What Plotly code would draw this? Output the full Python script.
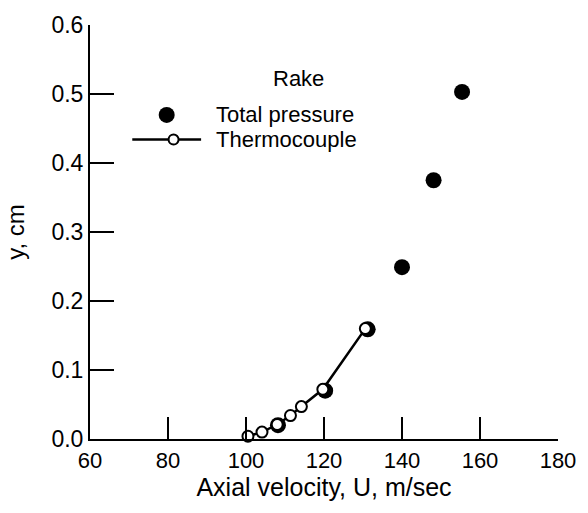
import plotly.graph_objects as go

# Data
total_x = [108.2, 120.3, 131.2, 140.0, 148.1, 155.4]
total_y = [0.020, 0.070, 0.159, 0.249, 0.375, 0.503]
thermo_x = [100.5, 104.1, 108.0, 111.4, 114.2, 119.7, 130.6]
thermo_y = [0.004, 0.010, 0.021, 0.034, 0.047, 0.072, 0.160]

x_ticks = [60, 80, 100, 120, 140, 160, 180]
y_ticks = [0.0, 0.1, 0.2, 0.3, 0.4, 0.5, 0.6]

FONT = "Liberation Sans, Arial, sans-serif"

fig = go.Figure()
fig.add_trace(go.Scatter(
    x=total_x, y=total_y, mode="markers", name="Total pressure",
    marker=dict(color="black", size=16, line=dict(width=0)),
    cliponaxis=False, showlegend=False,
))
fig.add_trace(go.Scatter(
    x=thermo_x, y=thermo_y, mode="lines+markers", name="Thermocouple",
    line=dict(color="black", width=2.5),
    marker=dict(color="white", size=11, line=dict(color="black", width=2)),
    cliponaxis=False, showlegend=False,
))

# Manual legend
def px2paper_x(px):
    return (px - 90) / 476.0

def px2paper_y(py):
    return (439 - py) / 419.0

ROW1, ROW2 = 111, 136
annotations = [
    dict(text="Rake", x=px2paper_x(302), y=px2paper_y(74), xref="paper", yref="paper",
         showarrow=False, xanchor="center", yanchor="middle", font=dict(size=22, color="black", family=FONT)),
    dict(text="Total pressure", x=px2paper_x(216), y=px2paper_y(ROW1), xref="paper", yref="paper",
         showarrow=False, xanchor="left", yanchor="middle", font=dict(size=22, color="black", family=FONT)),
    dict(text="Thermocouple", x=px2paper_x(216), y=px2paper_y(ROW2), xref="paper", yref="paper",
         showarrow=False, xanchor="left", yanchor="middle", font=dict(size=22, color="black", family=FONT)),
]
shapes = [
    dict(type="line", xref="paper", yref="paper", x0=px2paper_x(133), x1=px2paper_x(203),
         y0=px2paper_y(ROW2), y1=px2paper_y(ROW2), line=dict(color="black", width=2.5)),
    dict(type="circle", xref="paper", yref="paper", xsizemode="pixel", ysizemode="pixel",
         xanchor=px2paper_x(168), yanchor=px2paper_y(ROW1), x0=-8, x1=8, y0=-8, y1=8,
         fillcolor="black", line=dict(color="black", width=0)),
    dict(type="circle", xref="paper", yref="paper", xsizemode="pixel", ysizemode="pixel",
         xanchor=px2paper_x(175), yanchor=px2paper_y(ROW2), x0=-5, x1=5, y0=-5, y1=5,
         fillcolor="white", line=dict(color="black", width=2)),
]

fig.update_layout(
    width=588, height=513,
    margin=dict(l=90, r=22, t=20, b=74),
    paper_bgcolor="white", plot_bgcolor="white",
    font=dict(family=FONT, color="black"),
    annotations=annotations, shapes=shapes,
    showlegend=False,
)
fig.update_xaxes(
    range=[60, 180], tickvals=x_ticks, ticktext=[str(v) for v in x_ticks],
    ticks="inside", ticklen=22, tickwidth=2, tickcolor="black",
    showline=True, linewidth=2, linecolor="black", showgrid=False, zeroline=False,
    tickfont=dict(size=22), ticklabelstandoff=1,
    title=dict(text="Axial velocity, U, m/sec", font=dict(size=25), standoff=6),
)
fig.update_yaxes(
    range=[0, 0.6], tickvals=y_ticks, ticktext=["%.1f" % v for v in y_ticks],
    ticks="inside", ticklen=24, tickwidth=2, tickcolor="black",
    showline=True, linewidth=2, linecolor="black", showgrid=False, zeroline=False,
    tickfont=dict(size=23), ticklabelstandoff=0,
    title=dict(text="y, cm", font=dict(size=24), standoff=20),
)

fig.write_html("out.html")
